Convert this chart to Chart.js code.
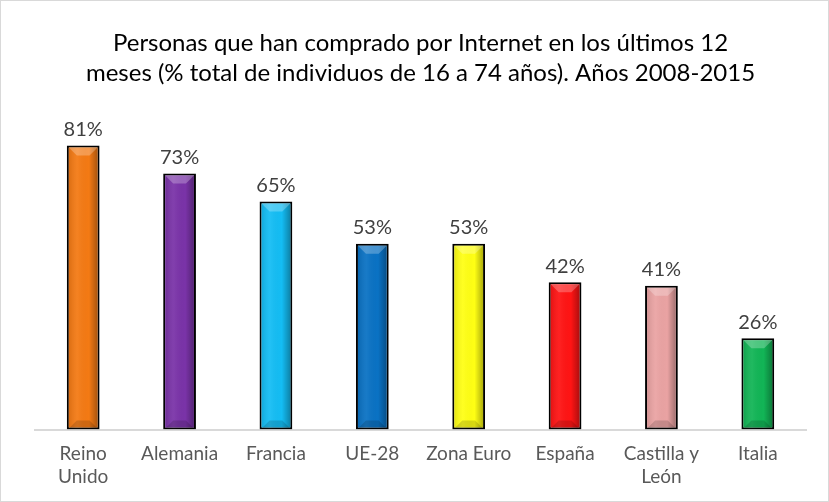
<!DOCTYPE html>
<html>
<head>
<meta charset="utf-8">
<script src="https://cdn.jsdelivr.net/npm/chart.js@4/dist/chart.umd.min.js"></script>
<style>
  html, body { margin: 0; padding: 0; background: #fff; }
  #wrap { width: 827px; height: 500px; border: 1px solid #d9d9d9; }
</style>
</head>
<body>
<div id="wrap"><canvas id="buyChart" width="827" height="500"></canvas></div>
<script>
const categories = [['Reino', 'Unido'], 'Alemania', 'Francia', 'UE-28', 'Zona Euro', 'España', ['Castilla y', 'León'], 'Italia'];
const values = [81, 73, 65, 53, 53, 42, 41, 26];
const barColors = ['#F47A14', '#7A33A8', '#14BDF4', '#0A72C4', '#FFFF14', '#FF1414', '#EAA3A3', '#12B556'];
const titleLines = ['Personas que han comprado por Internet en los últimos 12', 'meses (% total de individuos de 16 a 74 años). Años 2008-2015'];

const FONT = 'Lato, "Open Sans", sans-serif';

// bevel overlay: light top, dark bottom and sides
const bevelPlugin = {
  id: 'bevel',
  afterDatasetsDraw(chart) {
    const ctx = chart.ctx;
    chart.getDatasetMeta(0).data.forEach(bar => {
      const { x, y, base, width } = bar.getProps(['x', 'y', 'base', 'width'], true);
      const l = x - width / 2 + 2, r = x + width / 2 - 2;
      const t = y + 2, b = base - 1;
      const d = Math.min(8, (b - t) / 2);
      ctx.save();
      // soft shading across the face
      const g = ctx.createLinearGradient(l, 0, r, 0);
      g.addColorStop(0, 'rgba(0,0,0,0.10)');
      g.addColorStop(0.3, 'rgba(255,255,255,0.06)');
      g.addColorStop(0.7, 'rgba(0,0,0,0.0)');
      g.addColorStop(1, 'rgba(0,0,0,0.30)');
      ctx.fillStyle = g;
      ctx.fillRect(l, t, r - l, b - t);
      // top
      ctx.fillStyle = 'rgba(255,255,255,0.25)';
      ctx.beginPath();
      ctx.moveTo(l, t); ctx.lineTo(r, t); ctx.lineTo(r - d, t + d); ctx.lineTo(l + d, t + d); ctx.closePath(); ctx.fill();
      // bottom
      ctx.fillStyle = 'rgba(0,0,0,0.15)';
      ctx.beginPath();
      ctx.moveTo(l, b); ctx.lineTo(r, b); ctx.lineTo(r - d, b - d); ctx.lineTo(l + d, b - d); ctx.closePath(); ctx.fill();
      ctx.restore();
    });
  }
};

const valueLabels = {
  id: 'valueLabels',
  afterDatasetsDraw(chart) {
    const ctx = chart.ctx;
    ctx.save();
    ctx.font = '20px ' + FONT;
    ctx.fillStyle = '#404040';
    ctx.textAlign = 'center';
    ctx.textBaseline = 'bottom';
    chart.getDatasetMeta(0).data.forEach((bar, i) => {
      ctx.fillText(values[i] + '%', bar.x, bar.y - 6);
    });
    ctx.restore();
  }
};

new Chart(document.getElementById('buyChart'), {
  type: 'bar',
  data: {
    labels: categories,
    datasets: [{
      data: values,
      backgroundColor: barColors,
      borderColor: '#000',
      borderWidth: 2,
      borderSkipped: false,
      barPercentage: 0.34,
      categoryPercentage: 1
    }]
  },
  options: {
    responsive: false,
    animation: false,
    layout: { padding: { left: 34, right: 22, top: 27, bottom: 8 } },
    plugins: {
      legend: { display: false },
      tooltip: { enabled: false },
      title: {
        display: true,
        text: titleLines,
        color: '#000',
        font: { family: FONT, size: 24, weight: 'normal', lineHeight: 1.27 },
        padding: { top: 0, bottom: 25 }
      }
    },
    scales: {
      x: {
        grid: { display: false },
        border: { display: true, color: '#d9d9d9', width: 2 },
        ticks: { color: '#595959', font: { family: FONT, size: 19, lineHeight: 1.25 }, padding: 4, maxRotation: 0 }
      },
      y: {
        display: false,
        min: 0,
        max: 90
      }
    }
  },
  plugins: [bevelPlugin, valueLabels]
});
</script>
</body>
</html>
